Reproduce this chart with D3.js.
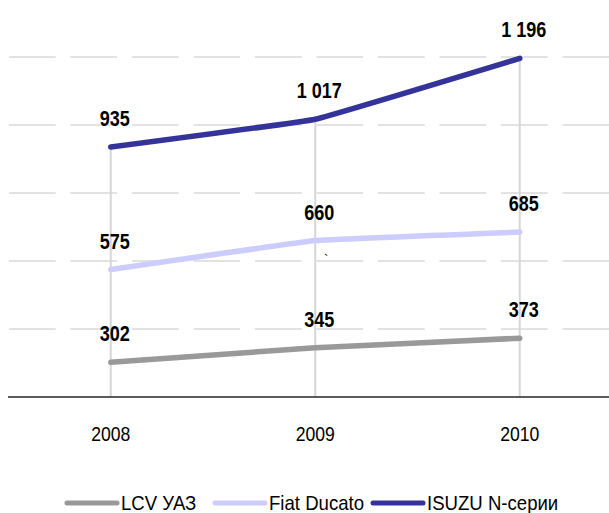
<!DOCTYPE html>
<html>
<head>
<meta charset="utf-8">
<script src="https://cdn.jsdelivr.net/npm/d3@7"></script>
<style>
  body { margin: 0; background: #fff; }
  svg { display: block; font-family: "Liberation Sans", Arial, sans-serif; }
</style>
</head>
<body>
<svg id="chart" width="609" height="513"></svg>
<script>
const years = ["2008", "2009", "2010"];
const seriesNames = ["LCV УАЗ", "Fiat Ducato", "ISUZU N-серии"];
const lcvUaz = [302, 345, 373];
const fiatDucato = [575, 660, 685];
const isuzuN = [935, 1017, 1196];
const gridTicks = [400, 600, 800, 1000, 1200];
const colors = ["#999999", "#ccccff", "#333399"];

const seriesValues = [lcvUaz, fiatDucato, isuzuN];
const series = seriesNames.map((name, i) => ({
  name: name,
  color: colors[i],
  values: years.map((y, j) => ({ year: y, value: seriesValues[i][j] }))
}));

const svg = d3.select("#chart");
const width = 609;
const narrow = 0.84; // no Arial Narrow installed, squeeze instead

const x = d3.scaleBand().domain(years).range([8.5, 622]);
const y = d3.scaleLinear().domain([200, 1200]).range([397, 57]);
const cx = d => x(d) + x.bandwidth() / 2;

// horizontal dashed gridlines
svg.append("g").selectAll("line")
  .data(gridTicks)
  .enter().append("line")
  .attr("x1", 9).attr("x2", width)
  .attr("y1", d => y(d)).attr("y2", d => y(d))
  .attr("stroke", "#c6c6c6")
  .attr("stroke-width", 1)
  .attr("stroke-dasharray", "46.7,14.8");

// drop lines from the highest point down to the axis
svg.append("g").selectAll("line")
  .data(years)
  .enter().append("line")
  .attr("x1", d => cx(d)).attr("x2", d => cx(d))
  .attr("y1", (d, j) => y(d3.max(seriesValues, s => s[j])))
  .attr("y2", y(200))
  .attr("stroke", "#d6d6d6")
  .attr("stroke-width", 2);

// x axis
const xAxis = svg.append("g")
  .attr("transform", "translate(0," + y(200) + ")")
  .call(d3.axisBottom(x).tickSize(0).tickPadding(0));
xAxis.select(".domain").remove();
xAxis.append("line")
  .attr("x1", 8).attr("x2", width)
  .attr("stroke", "#262626").attr("stroke-width", 1.5);
xAxis.selectAll(".tick text")
  .attr("font-family", null)
  .attr("y", 0).attr("dy", null)
  .attr("transform", "translate(0,44) scale(" + narrow + ",1)")
  .style("font-size", "21px")
  .attr("fill", "#000");

// lines
const line = d3.line()
  .x(d => cx(d.year))
  .y(d => y(d.value))
  .curve(d3.curveCardinal.tension(0.8));

svg.append("g").selectAll("path")
  .data(series)
  .enter().append("path")
  .attr("d", d => line(d.values))
  .attr("fill", "none")
  .attr("stroke", d => d.color)
  .attr("stroke-width", 5.5)
  .attr("stroke-linecap", "round")
  .attr("stroke-linejoin", "round");

// value labels
svg.append("g").selectAll("g")
  .data(series)
  .enter().append("g")
  .selectAll("text")
  .data(d => d.values)
  .enter().append("text")
  .attr("transform", d => "translate(" + (cx(d.year) + 4) + "," + (y(d.value) - 21) + ") scale(" + narrow + ",1)")
  .attr("text-anchor", "middle")
  .style("font-size", "21.5px")
  .style("font-weight", "bold")
  .text(d => d3.format(",")(d.value).replace(",", " "));

// stray mark present in the original
svg.append("text")
  .attr("x", cx("2009") + 9).attr("y", y(590))
  .style("font-size", "12px")
  .text("`");

// legend
const legendX = [67, 215, 373];
const legend = svg.append("g").selectAll("g")
  .data(series)
  .enter().append("g")
  .attr("transform", (d, i) => "translate(" + legendX[i] + ",503)");
legend.append("line")
  .attr("x1", 0).attr("x2", 50)
  .attr("stroke", d => d.color)
  .attr("stroke-width", 5)
  .attr("stroke-linecap", "round");
legend.append("text")
  .attr("transform", "translate(54,7) scale(0.93,1)")
  .style("font-size", "20px")
  .text(d => d.name);
</script>
</body>
</html>
